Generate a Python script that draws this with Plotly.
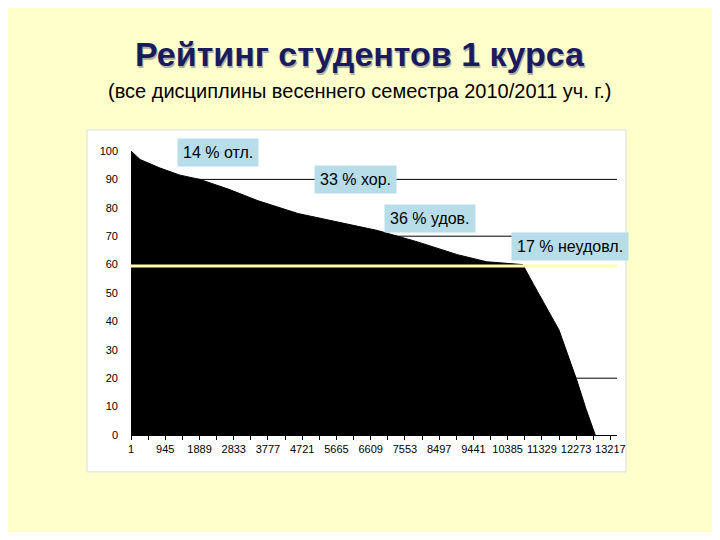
import plotly.graph_objects as go

rank = [1, 250, 800, 1350, 1900, 2700, 3500, 4600, 5700, 6800, 7900, 9000, 9800, 10800, 11100, 11800, 12300, 12550, 12800]
score = [100, 97, 94, 91.5, 90, 86.5, 82.5, 78, 75, 72, 68, 63.5, 61, 60, 53, 37, 19, 9, 0]
xticks = [1, 945, 1889, 2833, 3777, 4721, 5665, 6609, 7553, 8497, 9441, 10385, 11329, 12273, 13217]
grid_levels = [90, 70, 20]
labels = ["14 % отл.", "33 % хор.", "36 % удов.", "17 % неудовл."]
label_x = [2400, 6176, 8244, 12104]
label_y = [99.6, 89.8, 76.4, 66.5]

fig = go.Figure()
fig.add_trace(go.Scatter(x=rank, y=score, mode="lines", line=dict(color="black", width=1, shape="linear"),
                         fill="tozeroy", fillcolor="black", hoverinfo="skip"))
shapes = [dict(type="rect", xref="paper", yref="paper", x0=-0.0905, x1=1.0185, y0=-0.13, y1=1.074,
               fillcolor="white", line=dict(color="#dddddd", width=1), layer="below")]
for g in grid_levels:
    shapes.append(dict(type="line", xref="paper", yref="y", x0=0, x1=1, y0=g, y1=g,
                       line=dict(color="black", width=1), layer="below"))
shapes.append(dict(type="line", xref="paper", yref="y", x0=0, x1=1, y0=59.5, y1=59.5,
                   line=dict(color="#FFFFB0", width=3), layer="above"))
anns = []
for t, xv, yv in zip(labels, label_x, label_y):
    anns.append(dict(x=xv, y=yv, text=t, showarrow=False, bgcolor="#B7DEE8",
                     font=dict(family="Liberation Sans", size=16, color="black"), borderpad=5))
anns.append(dict(xref="paper", yref="paper", x=0.474, y=1.409, text="<b>Рейтинг студентов 1 курса</b>",
                 showarrow=False, font=dict(family="Liberation Sans", size=34, color="#b0b0a0")))
anns.append(dict(xref="paper", yref="paper", x=0.471, y=1.415, text="<b>Рейтинг студентов 1 курса</b>",
                 showarrow=False, font=dict(family="Liberation Sans", size=34, color="#1A1A5E")))
anns.append(dict(xref="paper", yref="paper", x=0.471, y=1.257, text="(все дисциплины весеннего семестра 2010/2011 уч. г.)",
                 showarrow=False, font=dict(family="Liberation Sans", size=20, color="black")))
fig.update_layout(width=704, height=524, paper_bgcolor="#FFFFCC", plot_bgcolor="#C0C0C0",
                  margin=dict(l=123, r=95, t=143, b=97), showlegend=False,
                  shapes=shapes, annotations=anns)
fig.update_xaxes(range=[0, 13400], tickvals=xticks, ticktext=[str(v) for v in xticks],
                 showgrid=False, zeroline=False, ticks="outside", ticklen=4, tickcolor="black",
                 minor=dict(dtick=472, ticks="outside", ticklen=4, tickcolor="black", tick0=1),
                 tickfont=dict(family="Liberation Sans", size=11, color="black"),
                 showline=True, linecolor="black")
fig.update_yaxes(range=[0, 100], dtick=10, showgrid=False, zeroline=False, ticks="",
                 tickfont=dict(family="Liberation Sans", size=11, color="black"), ticklabelstandoff=12)
fig.write_html("out.html")
